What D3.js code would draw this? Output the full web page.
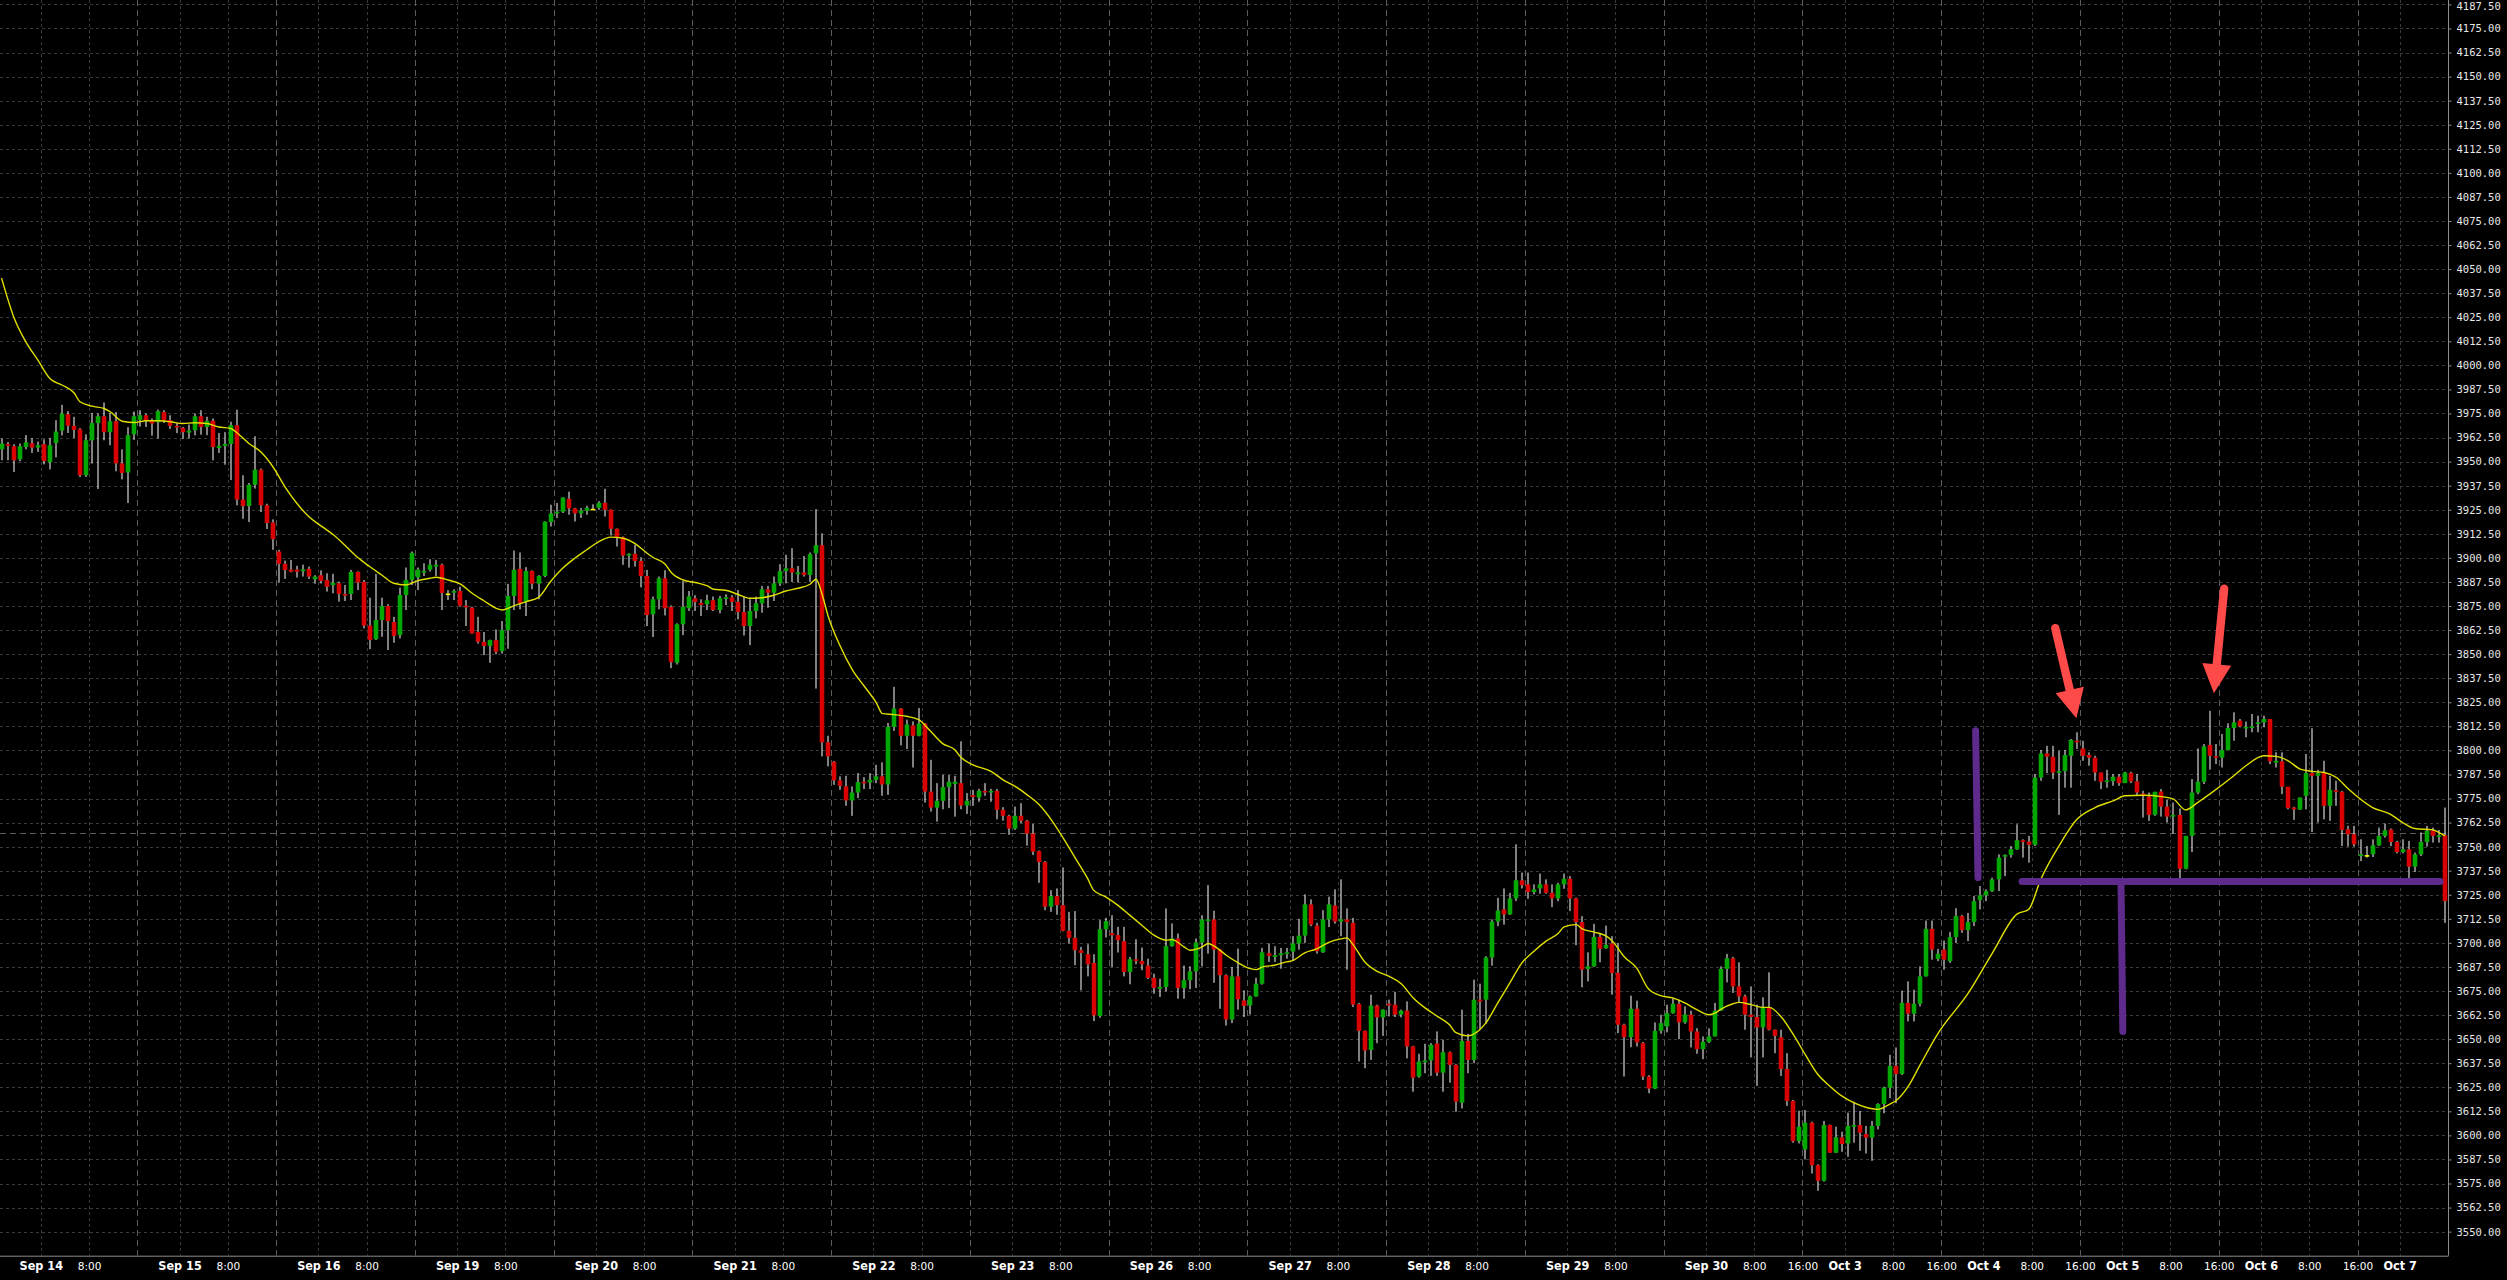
<!DOCTYPE html>
<html><head><meta charset="utf-8">
<script src="https://cdn.jsdelivr.net/npm/d3@7"></script>
<style>html,body{margin:0;padding:0;background:#000;overflow:hidden}</style>
</head><body><svg id="chart" width="2507" height="1280"></svg>
<script>
// ---------- DATA (hourly bars, 23 per session) ----------
const dayLabels = ["Sep 14","Sep 15","Sep 16","Sep 19","Sep 20","Sep 21","Sep 22","Sep 23","Sep 26","Sep 27","Sep 28","Sep 29","Sep 30","Oct 3","Oct 4","Oct 5","Oct 6","Oct 7"];
const sixteenLabelDays = [12,13,14,15,16];
const barsPerDay = 23;

const opens = [
3956.4,3959.2,3958,3951.2,3957.6,3959.5,3957.3,3959,3949.7,3959.6,
3966.1,3974.7,3968.6,3966.8,3942.9,3961.1,3970,3973.6,3965.3,3971,
3949.1,3944.4,3964.2,3971.7,3974.1,3971.2,3970.5,3975.7,3971.5,3968.6,
3967.5,3965.1,3966.3,3973.6,3968,3971.2,3957.1,3958.2,3959.2,3968.9,
3930.3,3926.9,3938,3945.8,3927.3,3918.4,3903.3,3896.9,3893.9,3893.9,
3893.1,3894.3,3888.9,3891,3888.5,3885.9,3886.8,3881.3,3881.3,3892.7,
3887.5,3864.8,3857.8,3867.7,3875,3866.7,3859.9,3880.7,3888.5,3889.8,
3892.4,3893.8,3895.5,3896.4,3881.5,3881.9,3882.8,3875.2,3874.1,3861.5,
3856.4,3854.3,3857.3,3851.6,3862.5,3880.2,3894.3,3877.3,3893.2,3886.6,
3890.6,3918.6,3923.1,3924,3930.7,3925.7,3923.1,3924.5,3925.5,3926,
3928.6,3925,3915.1,3910.8,3901.2,3902.1,3898.4,3890.6,3870.7,3878.5,
3889.4,3874.5,3845.5,3865.5,3873.8,3879,3876.6,3875.9,3878,3872.9,
3878.6,3879.5,3877.1,3871.9,3864.6,3872.4,3876.4,3883.7,3881.9,3886.8,
3893.2,3894.6,3891.5,3892.4,3891.1,3902.4,3906.6,3804.2,3794.1,3784.4,
3781.3,3774,3778.1,3783.7,3783.3,3784.7,3786.5,3782.3,3812.2,3821.7,
3807.6,3813,3807.6,3813.9,3778.6,3770.3,3773.8,3780.9,3782.6,3783,
3771.4,3776.7,3775.5,3779,3778.1,3779,3769.1,3766,3759.4,3766,
3763.4,3756.8,3747.7,3742,3718.8,3724.3,3719.6,3706.3,3702.6,3696.2,
3694.1,3689.6,3662,3707.1,3705,3704,3700.9,3684.9,3691.5,3690.6,
3688.2,3681.8,3676.2,3677.1,3698.3,3702.3,3676.6,3680.6,3685.2,3700.2,
3711.5,3712.2,3696.5,3683.2,3660.2,3682.6,3670.1,3667.5,3672.2,3678.8,
3694.6,3692.7,3693.6,3694.3,3695.5,3699.7,3703.8,3720,3709,3695.1,
3712.2,3719.4,3711.1,3712.2,3710.4,3668.2,3654.3,3644.4,3667.4,3661.3,
3668.4,3667.9,3662.7,3664.8,3646.2,3630.6,3638,3638.9,3647.7,3632.6,
3643.2,3636.6,3617,3649.1,3639.2,3670.5,3670.5,3692.4,3711.1,3717.4,
3714.8,3723.1,3732.5,3730.4,3726.4,3728.3,3730.4,3726,3723.1,3730.4,
3733.3,3723.1,3710.8,3686.5,3687.8,3703.1,3697.2,3699.7,3684.4,3657.5,
3651,3665.8,3647.9,3630.6,3624.3,3654.3,3656.6,3663.5,3668.4,3658.7,
3662.7,3654,3644.8,3648.6,3651.4,3664.8,3686.5,3692,3677.4,3672.2,
3662.7,3661.5,3656.1,3666.5,3654.9,3651,3634.5,3617.9,3597,3592.7,
3606.6,3584.5,3576.4,3605.4,3591,3599,3595.8,3604.5,3605.4,3600.7,
3598.8,3604.9,3616.3,3624.8,3636.1,3631.9,3668.8,3663.2,3668.4,3682.6,
3707.3,3691.7,3696.5,3690.5,3703,3713.9,3706.6,3710.8,3722.2,3724.7,
3726.9,3733,3744.8,3745.7,3748.6,3753.3,3752.6,3750.9,3785.9,3798.4,
3796.7,3788.5,3789.2,3797.2,3805,3801,3797.6,3796.2,3788.5,3783.7,
3784,3786.3,3783,3788.2,3783.9,3777.6,3775.9,3766.5,3778.6,3770.8,
3765.6,3766.5,3738.5,3755.6,3778.1,3783.7,3802.8,3797,3796.2,3800.2,
3811.6,3815.4,3811.5,3811.6,3813.7,3814.6,3816.3,3793.6,3794.3,3781.1,
3770.3,3769.3,3776.4,3788.2,3786.8,3788.5,3771.2,3779.3,3778.5,3759,
3756.4,3745.1,3745.6,3746,3750.7,3755.6,3758.9,3752.4,3747.2,3748.6,
3739.6,3746,3752.4,3758.2,3755.2,3755.9];
const highs = [
3962,3960.2,3959,3959.4,3963.8,3962.2,3960.4,3961.6,3962.3,3971.5,
3979.5,3976.2,3973.3,3967.4,3964.2,3975.3,3975,3980.7,3975.3,3975.7,
3956.4,3967.9,3976,3976.7,3975,3972.4,3977,3976.7,3974.1,3970.1,
3968,3969.3,3975,3976.7,3973.3,3972.4,3964.9,3965.3,3970.7,3977,
3942.9,3938.9,3963.2,3946.4,3928.1,3920,3904.2,3898.6,3898.9,3895.9,
3896.5,3895.5,3891,3893.5,3892,3891.7,3887.7,3885.9,3893.8,3893,
3888.5,3879.3,3891.7,3879.3,3875.9,3869.4,3884.5,3895,3903.3,3895,
3897.2,3899.3,3899,3897,3883.3,3883.7,3885.1,3878.1,3874.6,3869.4,
3861.5,3857.5,3862.8,3867.2,3886.5,3903.8,3902.8,3895.2,3893.5,3891,
3919,3927.6,3928.5,3931.5,3934.4,3926,3925.9,3927.1,3927.8,3929.5,
3935.9,3925.2,3915.3,3911.1,3902.4,3906.8,3900.3,3893.8,3879.9,3890.3,
3893.6,3875.3,3866,3888,3882.8,3880.6,3878.5,3880.9,3879.9,3880.2,
3881.1,3880.6,3883.3,3879.9,3878.5,3879.9,3885.4,3885.4,3890.3,3896.7,
3901.6,3905,3895.8,3901,3902.8,3925.3,3912.7,3807.6,3794.5,3786.5,
3786.8,3781.3,3788.2,3786.1,3788.2,3792.5,3793.8,3814.2,3833,3822,
3816,3815.1,3822,3814.2,3795.1,3783,3787.3,3787.2,3786.8,3804.7,
3777.8,3779.5,3780,3783,3780,3779.9,3770.5,3766.5,3770.8,3772.6,
3763.9,3761.8,3748,3742.5,3727.4,3728.3,3739.2,3716.1,3716.5,3697.9,
3699.3,3694.1,3711.8,3713,3714.4,3708.3,3708.3,3692.7,3701.9,3697.6,
3691.8,3684,3681.4,3717.9,3710.1,3704.9,3688.2,3687.8,3702.3,3714.4,
3730,3716.7,3696.8,3683.7,3687.5,3697,3675.3,3672.7,3681.9,3697.4,
3699.7,3698.3,3697.4,3697.4,3703.5,3712.5,3725.2,3722.6,3710.4,3717,
3724,3727.8,3733,3717.9,3713,3668.8,3654.5,3673.1,3667.9,3665.5,
3670.5,3674.5,3665.3,3669.6,3646.5,3642.4,3647.6,3647.9,3654,3649.7,
3643.6,3637,3665.3,3652.8,3680.9,3678.8,3693.1,3712.2,3723.4,3728.3,
3726,3751.2,3736.5,3736.5,3730.4,3736,3733,3730.4,3731.2,3736,
3734.7,3723.5,3713.9,3695.1,3709.9,3705.2,3709,3703.5,3700,3658,
3672.6,3670,3648.5,3631.3,3658.7,3662.7,3667.9,3671.4,3670.5,3667,
3664.8,3655.7,3651.4,3655.6,3668.8,3687.8,3694.3,3692.7,3689.9,3673.1,
3677.4,3667.9,3671.7,3684.7,3655,3654.9,3642.7,3618.4,3612.8,3613.2,
3607.1,3585,3607.5,3605.6,3604.5,3601.9,3611.8,3617.5,3612.7,3604.9,
3607.5,3616.7,3625.3,3641.8,3645.7,3675.2,3680,3675.7,3687.8,3711.6,
3711.6,3696.9,3701.2,3705.6,3718,3714.5,3715.6,3724.3,3729.5,3727.8,
3733.9,3746,3746,3750.3,3761.6,3753.8,3755.6,3787.7,3800.2,3802.4,
3802.4,3799.8,3800.2,3805.9,3809.4,3805,3799,3797.2,3788.5,3789.9,
3787.7,3787.7,3788.9,3788.9,3787.7,3779,3778.1,3778.5,3779.9,3774.3,
3772.9,3769.8,3755.6,3785.1,3801,3803.3,3820.5,3803.3,3808.5,3814.1,
3819.8,3816.3,3815,3818.9,3818,3818,3816.3,3799,3799,3781,
3770.7,3775.5,3798.1,3811.5,3789.9,3794.6,3786.8,3784.2,3779,3760.8,
3760.8,3753.8,3750.3,3753.8,3759.9,3762,3759.4,3753,3753.8,3753,
3746.9,3757.3,3760.8,3759.9,3758.7,3770.3];
const lows = [
3950.7,3950.7,3944.6,3950.2,3956.4,3954.5,3955,3948.6,3946,3952.2,
3963.6,3964.9,3962.3,3942,3942,3949,3935.8,3961.1,3958.5,3945,
3940.8,3928.5,3961.3,3968.2,3968,3963.5,3962,3970.1,3967,3964.8,
3961.8,3962,3963.6,3964,3963.7,3950.7,3954.5,3948.4,3940.4,3927.3,
3920.3,3918.6,3936,3923.8,3915,3904.2,3887.2,3889.1,3892.5,3889.8,
3890.3,3889,3886.6,3886.7,3882.5,3881.6,3877.3,3877.6,3878.1,3883.3,
3863.4,3852.6,3857.3,3859,3852.1,3855.9,3858.2,3872.9,3885.9,3883.3,
3890.6,3892.9,3890.6,3872.9,3878.1,3878.1,3874.7,3864.6,3860.6,3855.5,
3849.5,3845.5,3850,3850.3,3852.8,3872.9,3873.3,3869.8,3883.7,3878.5,
3890,3916.3,3920.7,3923.3,3922.4,3918.9,3920.7,3922.4,3925,3925,
3921.5,3911.6,3905.9,3896.4,3895,3895.5,3884.7,3864.6,3858.9,3873.3,
3870.1,3842.7,3844.6,3859.9,3872.4,3872.4,3869.8,3872.9,3872.4,3871.2,
3875.5,3872.4,3868.1,3859.7,3854.7,3868.6,3871.5,3874.1,3877.6,3885.4,
3886.8,3887.5,3887.2,3890.3,3887.5,3832.1,3796.9,3791.7,3782.1,3779.5,
3771.2,3766,3775.2,3779.9,3779.9,3783,3776.4,3776.9,3810.1,3802.6,
3800.7,3791.1,3807.3,3772.9,3768.2,3763,3769.4,3770,3765.6,3769.4,
3767,3771.2,3773.3,3776.4,3773.3,3764.2,3763.5,3756.1,3758.7,3762.2,
3750.5,3745.7,3731.2,3717,3716.1,3714.6,3706,3699.7,3688.4,3675.3,
3682.6,3659.4,3661.1,3702.8,3687.5,3695,3682.6,3678.5,3688.9,3685.8,
3681.2,3673.6,3671.9,3674.8,3698,3671,3671,3675.9,3676.6,3687.8,
3694.4,3679.3,3665.8,3657.1,3658.3,3665.3,3661.5,3662.8,3672,3678.3,
3690.1,3690.1,3686.6,3691.8,3690.8,3696.5,3700,3708.7,3694.4,3694.8,
3708.2,3710,3703.5,3686.1,3666.7,3638.4,3634.9,3639.2,3647.9,3651.7,
3661.8,3661.5,3661.3,3640,3622.7,3630,3632.3,3630.9,3630.9,3622.7,
3627.4,3612.3,3614,3632.3,3637.5,3655.2,3658,3688.2,3708.7,3709.5,
3714.5,3721.7,3728.3,3722.9,3725.2,3725.5,3725.5,3718.6,3721.7,3728.1,
3716.5,3698.8,3676.9,3680,3687.5,3689.9,3696.9,3673.1,3653.1,3630.6,
3645.8,3646.2,3628.8,3621.9,3624,3652.8,3653.5,3663.2,3650,3658,
3645.7,3642.4,3639.6,3648,3651.4,3664.8,3679.5,3674,3669.1,3654.9,
3640.5,3625.7,3640.5,3654.5,3642.7,3630.9,3615.3,3596.2,3595.8,3587.5,
3580.2,3571.2,3576,3590.9,3590.9,3591.5,3588.9,3596.2,3592,3590.6,
3586.8,3603.1,3611.5,3619.3,3616.7,3631.4,3659.2,3659.2,3667,3682.5,
3691.3,3690.5,3686.1,3689.6,3700,3705.2,3700.9,3708.7,3717.4,3721.7,
3726.4,3726.9,3734.7,3744.3,3748.3,3744.3,3741.7,3750.3,3784.2,3788.2,
3785.1,3766.5,3780.6,3780.6,3800.7,3794.6,3792,3784.2,3779.9,3780.6,
3781.6,3781.6,3783,3783,3776.7,3765.1,3763.4,3766,3765.6,3762.5,
3756.8,3733.7,3738.2,3747.2,3777.3,3782.5,3790,3792.9,3791.1,3800.2,
3805,3812,3806.8,3809.4,3809.4,3812,3792.9,3791.1,3777.3,3769.4,
3763.9,3769.1,3769.4,3757.6,3762.5,3764.2,3763.4,3771.2,3750.3,3750,
3750,3742.5,3744.3,3744.6,3750.3,3754.7,3750.3,3746.5,3746.5,3733.3,
3736.8,3745.1,3750,3752.1,3752.1,3710.4];
const closes = [
3959.4,3958.2,3950.7,3958,3960,3957.3,3958.5,3950.3,3958.5,3965.6,
3974.9,3968.6,3966.5,3942.9,3961.1,3970,3973.6,3965.3,3971,3949.1,
3944.1,3963.7,3973.6,3974.1,3971.2,3969.8,3976.2,3971.5,3968.6,3967.7,
3965.3,3966.1,3973.6,3968,3971.2,3957.6,3958.2,3959.2,3968.9,3930.3,
3926.9,3938,3945.8,3927.3,3918.1,3909.7,3896.9,3893.7,3892.8,3892.8,
3894,3890.3,3890.3,3888,3885,3887,3881.3,3880.4,3892.7,3887.2,
3864.8,3857.3,3867.7,3875,3867.2,3859.5,3880.7,3888.5,3902.6,3893.8,
3893.2,3896.4,3896.4,3881.8,3881.5,3882.8,3875.2,3874.3,3860.8,3856.4,
3854.3,3857.3,3851.2,3862.5,3880.2,3893.8,3876.4,3893.2,3886.6,3890.6,
3918.8,3923.1,3924,3931.3,3925.7,3923.1,3924.5,3926,3925.5,3928.6,
3925,3915.1,3910.8,3901.2,3902.1,3898.4,3890.6,3870.3,3878.5,3889.4,
3873.8,3845.8,3865.5,3874.5,3880,3877.1,3875.5,3878,3872.9,3879,
3879.5,3877.1,3871.9,3864.6,3872.4,3876.4,3883.7,3881.9,3886.8,3893.1,
3894.6,3892.4,3892.5,3891.1,3901.9,3906.6,3804.2,3796.9,3784.4,3781.6,
3774,3778.1,3783.5,3783,3784.7,3786.5,3782.3,3812.2,3821.7,3807.6,
3813.4,3807.6,3813.9,3778.6,3770.3,3773.8,3780.9,3783.7,3783.7,3771.4,
3773.8,3775.7,3779,3778.1,3779,3769.1,3766,3759.4,3766,3763.4,
3756.8,3747.4,3742,3718.8,3724.3,3719.6,3706.3,3702.6,3696.2,3694.8,
3688.9,3662.3,3707.1,3711.3,3704,3701.4,3684.9,3691.5,3690.6,3688.9,
3681.8,3676.6,3677.1,3698.3,3702.3,3676.6,3680.6,3685.2,3700.2,3712.2,
3712.2,3696.5,3683.2,3660.2,3682.6,3670.7,3667.2,3672.2,3678.8,3695.1,
3693.2,3693.6,3694.6,3695.1,3699.7,3703.8,3720,3709.5,3695.7,3712.2,
3720,3711.1,3712.2,3710.8,3667.9,3654.3,3644.1,3667.4,3661.3,3665.3,
3667.5,3662.7,3664.8,3646.2,3630,3638.4,3638.9,3647,3632.6,3643.2,
3636.6,3617.5,3649.1,3639.2,3670.5,3669.6,3692.4,3711.1,3716.8,3714.8,
3723.1,3732.5,3730,3726.4,3727.8,3730.4,3726,3723.1,3730.4,3733.3,
3723.1,3710.8,3686.1,3687.8,3703.1,3696.9,3699,3684.4,3657.5,3651,
3665.8,3648.3,3630.6,3624.3,3654.3,3658.3,3663.5,3668.4,3658.7,3662.7,
3654,3644.8,3648.6,3651.4,3664.8,3686.5,3692,3677.4,3672.2,3662.7,
3661.5,3656.1,3666.5,3654.9,3651.7,3634.5,3617.9,3597,3604.5,3606.6,
3584.5,3576.4,3605.4,3591,3599,3595.5,3604.9,3605.4,3601.4,3598.8,
3604.9,3616.3,3624.8,3636.1,3631.9,3668.8,3663.2,3668.4,3682.6,3707.3,
3696.5,3694.3,3691.3,3703,3713.9,3706.6,3710.8,3721.7,3724.7,3726.9,
3733,3744.3,3745.7,3748.6,3753.3,3752.4,3750.9,3785.9,3798.4,3796.7,
3788.5,3789.2,3797.6,3805.4,3804.2,3797.2,3796.2,3788.5,3783.7,3784.4,
3786.3,3783,3788.5,3783.9,3778.1,3776.9,3766.5,3778.5,3770.8,3765.6,
3766.5,3738.5,3755.6,3778.1,3783.7,3802.1,3797.2,3796.2,3800.2,3811.6,
3814.6,3812.5,3812.2,3812.5,3814.6,3816.3,3794.3,3794.6,3781.1,3770,
3769.3,3775.5,3788.2,3786.8,3788.2,3771.2,3779.5,3778.5,3758.7,3756.4,
3751.2,3746,3745.6,3750.7,3755.6,3758.5,3752.4,3747.2,3748.6,3739.6,
3746,3752.4,3758.2,3755.6,3755.9,3721.7];

// moving average (bar index, value)
const maBars = [0,2,4,6,8,10,12,13,15,17,18,20,22,24,26,28,30,32,34,36,38,39,41,43,45,47,49,51,53,55,57,59,61,63,65,67,69,71,72,74,76,78,80,82,83,85,87,89,91,93,95,97,99,101,103,105,107,108,110,111,113,115,117,118,120,122,124,126,128,130,132,134,135,136,137,139,141,143,145,146,148,150,152,154,156,158,159,161,164,166,168,170,172,174,176,178,180,181,183,185,187,189,191,193,194,196,197,199,200,201,203,205,207,208,209,211,213,214,216,218,220,222,223,224,226,228,230,232,234,236,238,240,241,243,245,246,248,250,252,254,256,258,259,261,262,264,266,267,269,271,273,275,277,279,281,283,284,285,287,288,290,292,293,295,297,299,301,303,305,307,309,311,313,314,316,318,321,326,330,334,336,338,341,344,347,350,352,355,358,360,362,364,366,370,372,375,377,379,381,383,385,387,389,393,396,398,400,403,404,405];
const maValues = [4045.3,4025.3,4012.3,4002.8,3993.2,3989.8,3985.8,3981.1,3978.8,3977.6,3975.9,3971,3970.3,3971.2,3971.2,3970.7,3969.8,3970.2,3969.8,3968,3967.2,3965,3959.4,3955,3947.2,3936.8,3928.1,3921.2,3916.5,3912,3906.3,3900.3,3895.5,3891.1,3886.8,3885.9,3888.2,3889.4,3889.9,3888.5,3886.5,3881.6,3877.6,3873.8,3872.9,3875.2,3877.3,3879.5,3887.7,3894.6,3899.8,3904.2,3908.5,3910.8,3910.2,3907.4,3902.4,3900.2,3896.7,3892.4,3888.5,3887.2,3885.4,3883.7,3883.2,3881.1,3879,3879.3,3880.6,3882.8,3884.2,3886.3,3888.9,3881.1,3869.8,3854.2,3842,3833.3,3824.7,3819.1,3818.6,3817.7,3816,3809.9,3803.5,3800.3,3796.4,3792.5,3789.1,3784.7,3781.3,3776.9,3771.7,3763.9,3754.3,3743.9,3733.5,3727.4,3723.9,3719.6,3714.4,3709.2,3704,3701.4,3701.7,3697.9,3696.2,3697.9,3699.7,3698.3,3693.6,3689.6,3686.6,3686.1,3687.5,3688.4,3690.1,3690.8,3694.8,3696.9,3700.3,3702.1,3702.6,3699.1,3689.9,3685.2,3682.6,3678.8,3671.4,3666.1,3661.8,3657.5,3653.5,3651.7,3654.9,3658.3,3668.8,3679.2,3689.6,3695.7,3700.9,3704.9,3708.3,3709.5,3707.3,3705.6,3703.5,3700.9,3692.7,3687,3676,3672.6,3671.4,3668.8,3665.3,3662.7,3663.5,3665.6,3668.4,3669.1,3667.9,3666.5,3666.5,3661.5,3652.3,3641.8,3631.9,3625.7,3620.5,3617,3614.6,3613.5,3616.3,3618,3625.3,3636.6,3653.1,3674,3694.8,3714.8,3717.4,3733,3750.3,3764.2,3770.3,3773.8,3776.4,3776.7,3776,3774.7,3769.1,3772.9,3777.3,3786.8,3792,3797.2,3796.9,3794.6,3790.3,3789.1,3788.5,3785.9,3779.9,3770.3,3766.8,3762.5,3759.4,3758.7,3757.3,3755.6];

const priceTicks = d3.range(3550, 4187.5 + 0.001, 12.5);
const currentLevel = 3757;

// hand-drawn annotations, in (bar index, price) units
const purpleLines = [
  {i1: 327.2, v1: 3810.2, i2: 327.6, v2: 3733.9},
  {i1: 334.9, v1: 3731.9, i2: 404.2, v2: 3731.9},
  {i1: 351.3, v1: 3731.9, i2: 351.6, v2: 3654.0}
];
const redArrows = [
  {ti: 340.4, tv: 3863.5, pi: 343.9, pv: 3816.7},
  {ti: 368.4, tv: 3884.0, pi: 366.7, pv: 3829.7}
];

// ---------- DRAWING ----------
const W = 2507, H = 1280, plotRight = 2448, plotBottom = 1255.7;
const N = opens.length;
const svg = d3.select("#chart");
svg.append("rect").attr("width", W).attr("height", H).attr("fill", "#000");

const x = d3.scaleLinear().domain([0, 406]).range([-1.45, plotRight]);
const y = d3.scaleLinear().domain([3537.5, 4189.8]).range([plotBottom, 0]);
const xc = i => x(i + 0.5);

const plot = svg.append("g");
plot.append("clipPath").attr("id", "clip").append("rect")
  .attr("x", 0).attr("y", 0).attr("width", plotRight).attr("height", plotBottom);
const inner = plot.append("g").attr("clip-path", "url(#clip)");

// horizontal grid
inner.append("g").selectAll("line").data(priceTicks).join("line")
  .attr("x1", 0).attr("x2", plotRight)
  .attr("y1", d => Math.round(y(d)) + 0.5).attr("y2", d => Math.round(y(d)) + 0.5)
  .attr("stroke", "#3a3a3a").attr("stroke-dasharray", "3,3");

// vertical grid (0:00 and 8:00 of every session)
const fineGrid = [];
dayLabels.forEach((_, d) => { fineGrid.push(d * barsPerDay + 7, d * barsPerDay + 15); });
inner.append("g").selectAll("line").data(fineGrid.filter(b => x(b) < plotRight)).join("line")
  .attr("x1", d => Math.round(x(d)) + 0.5).attr("x2", d => Math.round(x(d)) + 0.5)
  .attr("y1", 0).attr("y2", plotBottom)
  .attr("stroke", "#3a3a3a").attr("stroke-dasharray", "3,3");

// session separators
const seps = dayLabels.map((_, d) => d * barsPerDay).filter(b => b > 0);
inner.append("g").selectAll("line").data(seps).join("line")
  .attr("x1", d => Math.round(x(d)) + 0.5).attr("x2", d => Math.round(x(d)) + 0.5)
  .attr("y1", 0).attr("y2", plotBottom)
  .attr("stroke", "#5c5c5c").attr("stroke-dasharray", "6,4");

// current level dashed line
inner.append("line")
  .attr("x1", 0).attr("x2", plotRight)
  .attr("y1", Math.round(y(currentLevel)) + 0.5).attr("y2", Math.round(y(currentLevel)) + 0.5)
  .attr("stroke", "#5a5a5a").attr("stroke-dasharray", "6,4");

// candles
const idx = d3.range(N);
inner.append("g").selectAll("rect").data(idx).join("rect")
  .attr("x", i => Math.round(xc(i)) - 0.5).attr("width", 1)
  .attr("y", i => y(highs[i])).attr("height", i => Math.max(1, y(lows[i]) - y(highs[i])))
  .attr("fill", "#ffffff");
const bw = 4.6;
inner.append("g").selectAll("rect").data(idx).join("rect")
  .attr("x", i => Math.round(xc(i)) - bw / 2).attr("width", bw)
  .attr("y", i => y(Math.max(opens[i], closes[i])))
  .attr("height", i => Math.max(1.6, Math.abs(y(opens[i]) - y(closes[i]))))
  .attr("fill", i => closes[i] > opens[i] ? "#00a800" : (closes[i] < opens[i] ? "#d80000" : "#ffff00"));

// moving average
const maLine = d3.line().x(d => xc(d[0])).y(d => y(d[1])).curve(d3.curveMonotoneX);
inner.append("path").datum(maBars.map((b, k) => [b, maValues[k]]))
  .attr("d", maLine).attr("fill", "none").attr("stroke", "#e0e000").attr("stroke-width", 1.4);

// purple annotation lines
inner.append("g").selectAll("line").data(purpleLines).join("line")
  .attr("x1", d => xc(d.i1)).attr("y1", d => y(d.v1))
  .attr("x2", d => xc(d.i2)).attr("y2", d => y(d.v2))
  .attr("stroke", "#5e2a8c").attr("stroke-width", 7).attr("stroke-linecap", "round");

// red arrows
const arrowG = inner.append("g");
redArrows.forEach(a => {
  const tx = xc(a.ti), ty = y(a.tv), px = xc(a.pi), py = y(a.pv);
  const len = Math.hypot(px - tx, py - ty), ux = (px - tx) / len, uy = (py - ty) / len;
  const nx = -uy, ny = ux, hl = 29, hw = 14.5;
  const bx = px - ux * hl, by = py - uy * hl;
  arrowG.append("line").attr("x1", tx).attr("y1", ty).attr("x2", bx + ux * 2).attr("y2", by + uy * 2)
    .attr("stroke", "#ff4a4a").attr("stroke-width", 8.4).attr("stroke-linecap", "round");
  arrowG.append("path")
    .attr("d", `M${bx + nx * hw},${by + ny * hw}L${px},${py}L${bx - nx * hw},${by - ny * hw}Z`)
    .attr("fill", "#ff4a4a");
});

// right price axis
const yAxis = d3.axisRight(y).tickValues(priceTicks).tickFormat(d => d.toFixed(2)).tickSize(3).tickPadding(5);
const gy = svg.append("g").attr("transform", `translate(${plotRight + 0.5},0)`).call(yAxis);
gy.select(".domain").attr("stroke", "#8c8c8c").attr("d", `M0,0V${plotBottom}`);
gy.selectAll(".tick line").attr("stroke", "#8c8c8c");
gy.selectAll(".tick text").attr("fill", "#e8e8e8")
  .style("font-family", "'DejaVu Sans Mono', monospace").style("font-size", "10.5px")
  .attr("dy", d => d === priceTicks[priceTicks.length - 1] ? "0.5em" : "0.32em");

// bottom axis line
svg.append("line").attr("x1", 0).attr("x2", plotRight + 0.5)
  .attr("y1", plotBottom + 0.5).attr("y2", plotBottom + 0.5).attr("stroke", "#8c8c8c");

// time axis labels
const xTickPos = [], xTickText = [], xTickIsDate = [];
dayLabels.forEach((lab, d) => {
  const b0 = d * barsPerDay;
  if (x(b0 + 7) < plotRight) { xTickPos.push(b0 + 7); xTickText.push(lab); xTickIsDate.push(true); }
  if (x(b0 + 15) < plotRight - 5) { xTickPos.push(b0 + 15); xTickText.push("8:00"); xTickIsDate.push(false); }
  if (sixteenLabelDays.includes(d)) { xTickPos.push(b0 + 23); xTickText.push("16:00"); xTickIsDate.push(false); }
});
const xAxis = d3.axisBottom(x).tickValues(xTickPos).tickFormat((d, k) => xTickText[k]).tickSize(0);
const gx = svg.append("g").attr("transform", `translate(0,${plotBottom})`).call(xAxis);
gx.select(".domain").remove();
gx.selectAll(".tick text")
  .attr("y", 14.5).attr("dy", 0).attr("fill", "#ffffff")
  .style("font-family", (d, k) => xTickIsDate[k] ? "'DejaVu Sans Condensed','DejaVu Sans',sans-serif" : "'DejaVu Sans',sans-serif")
  .style("font-stretch", (d, k) => xTickIsDate[k] ? "condensed" : "normal")
  .style("font-weight", (d, k) => xTickIsDate[k] ? "bold" : "normal")
  .style("font-size", (d, k) => xTickIsDate[k] ? "12.5px" : "10.5px");
</script>
</body></html>
